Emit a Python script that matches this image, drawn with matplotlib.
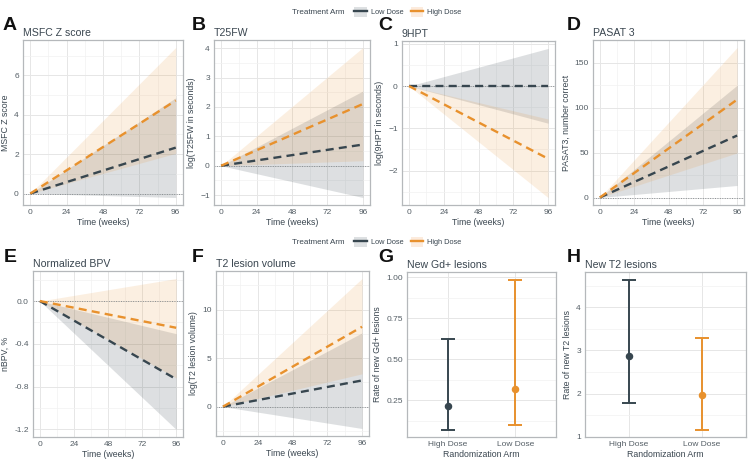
import matplotlib
matplotlib.use("Agg")
import matplotlib.pyplot as plt
from matplotlib.lines import Line2D
from matplotlib.patches import Patch
from matplotlib.ticker import AutoMinorLocator, FixedLocator
import numpy as np

plt.rcParams['font.family'] = ['Liberation Sans', 'DejaVu Sans']

# ---------------- data ----------------
time = [0, 96]
arms = ["Low Dose", "High Dose"]

# Panel A: MSFC Z score
msfc_low_est = [0, 2.33];  msfc_low_lo = [0, -0.20];  msfc_low_hi = [0, 4.86]
msfc_high_est = [0, 4.72]; msfc_high_lo = [0, 2.04]; msfc_high_hi = [0, 7.41]
# Panel B: T25FW
t25_low_est = [0, 0.72];  t25_low_lo = [0, -1.08];  t25_low_hi = [0, 2.54]
t25_high_est = [0, 2.10]; t25_high_lo = [0, 0.17]; t25_high_hi = [0, 4.02]
# Panel C: 9HPT
hpt_low_est = [0, 0.0];   hpt_low_lo = [0, -0.88];  hpt_low_hi = [0, 0.89]
hpt_high_est = [0, -1.72]; hpt_high_lo = [0, -2.64]; hpt_high_hi = [0, -0.78]
# Panel D: PASAT 3
pas_low_est = [0, 69];   pas_low_lo = [0, 13.4];  pas_low_hi = [0, 125]
pas_high_est = [0, 109]; pas_high_lo = [0, 49.6]; pas_high_hi = [0, 167]
# Panel E: nBPV
bpv_low_est = [0, -0.73];  bpv_low_lo = [0, -1.20];  bpv_low_hi = [0, -0.305]
bpv_high_est = [0, -0.25]; bpv_high_lo = [0, -0.72]; bpv_high_hi = [0, 0.21]
# Panel F: T2 lesion volume
t2v_low_est = [0, 2.70];  t2v_low_lo = [0, -2.25];  t2v_low_hi = [0, 7.60]
t2v_high_est = [0, 8.23]; t2v_high_lo = [0, 3.38]; t2v_high_hi = [0, 13.2]

# Panels G/H
rand_arms = ["High Dose", "Low Dose"]
gd_rate = [0.214, 0.318]; gd_lo = [0.073, 0.103]; gd_hi = [0.622, 0.986]
t2n_rate = [2.88, 1.97];  t2n_lo = [1.79, 1.17];  t2n_hi = [4.64, 3.29]

x_ticks = [0, 24, 48, 72, 96]

# ---------------- style ----------------
DARK = "#37464f"
ORANGE = "#e8912d"
TXT = "#3a4650"
TICK = "#555f66"
GRID = "#e6e6e6"
GRID_MINOR = "#f2f2f2"
BORDER = "#b5b8bb"

W, H = 750, 462
fig = plt.figure(figsize=(W / 100, H / 100), dpi=100)


def box(x0, y0, x1, y1):
    return [x0 / W, 1 - y1 / H, (x1 - x0) / W, (y1 - y0) / H]


def style_axes(ax, yticks, ylabel, title):
    ax.set_facecolor("white")
    for s in ax.spines.values():
        s.set_color(BORDER)
        s.set_linewidth(0.9)
    ax.grid(True, which="major", color=GRID, lw=0.7, zorder=0)
    ax.grid(True, which="minor", color=GRID_MINOR, lw=0.5, zorder=0)
    ax.set_axisbelow(True)
    ax.yaxis.set_major_locator(FixedLocator(yticks))
    ax.tick_params(which="both", length=0, labelsize=6.0, colors=TICK, pad=3)
    ax.set_ylabel(ylabel, fontsize=6.3, color=TXT, labelpad=3)
    ax.set_title(title, loc="left", fontsize=7.6, color=TXT, pad=3)


def expand(vals):
    lo, hi = min(vals), max(vals)
    d = (hi - lo) * 0.05
    return lo - d, hi + d


def trend_panel(rect, series, yticks, ylabel, title, fmt=None):
    ax = fig.add_axes(box(*rect))
    allv = []
    for est, lo, hi, col, a in series:
        ax.fill_between(time, lo, hi, color=col, alpha=a, lw=0, zorder=1)
        allv += list(lo) + list(hi) + list(est)
    ax.axhline(0, color="#8a8f93", lw=0.7, ls=(0, (1, 1.5)), zorder=2)
    for est, lo, hi, col, a in series:
        ax.plot(time, est, color=col, lw=1.7, ls=(0, (3.4, 2.2)), zorder=3,
                dash_capstyle="butt")
    ax.set_xlim(-4.8, 100.8)
    ax.set_ylim(*expand(allv))
    ax.xaxis.set_major_locator(FixedLocator(x_ticks))
    ax.xaxis.set_minor_locator(FixedLocator([12, 36, 60, 84]))
    ax.yaxis.set_minor_locator(AutoMinorLocator(2))
    style_axes(ax, yticks, ylabel, title)
    ax.set_xlabel("Time (weeks)", fontsize=6.3, color=TXT, labelpad=1.5)
    if fmt:
        ax.set_yticklabels([fmt.format(v) for v in yticks])
    return ax


def rate_panel(rect, rate, lo, hi, yticks, ylabel, title, fmt):
    ax = fig.add_axes(box(*rect))
    xs = np.arange(1, len(rand_arms) + 1)
    cols = [DARK, ORANGE]
    for i, x in enumerate(xs):
        ax.errorbar([x], [rate[i]], yerr=[[rate[i] - lo[i]], [hi[i] - rate[i]]],
                    fmt="o", color=cols[i], ms=4.4, elinewidth=1.4,
                    capsize=4.9, capthick=1.4, zorder=3)
    ax.set_xlim(0.4, 2.6)
    ax.set_ylim(*expand(list(lo) + list(hi)))
    ax.set_xticks(xs)
    ax.set_xticklabels(rand_arms)
    ax.yaxis.set_minor_locator(AutoMinorLocator(2))
    style_axes(ax, yticks, ylabel, title)
    ax.set_yticklabels([fmt.format(v) for v in yticks])
    ax.set_xlabel("Randomization Arm", fontsize=6.3, color=TXT, labelpad=1.5)
    return ax


A_LOW, A_HIGH = 0.17, 0.14

trend_panel((23, 40, 183, 205),
            [(msfc_low_est, msfc_low_lo, msfc_low_hi, DARK, A_LOW),
             (msfc_high_est, msfc_high_lo, msfc_high_hi, ORANGE, A_HIGH)],
            [0, 2, 4, 6], "MSFC Z score", "MSFC Z score")
trend_panel((214, 40, 370, 205),
            [(t25_low_est, t25_low_lo, t25_low_hi, DARK, A_LOW),
             (t25_high_est, t25_high_lo, t25_high_hi, ORANGE, A_HIGH)],
            [-1, 0, 1, 2, 3, 4], "log(T25FW in seconds)", "T25FW")
trend_panel((402, 41, 555, 205),
            [(hpt_low_est, hpt_low_lo, hpt_low_hi, DARK, A_LOW),
             (hpt_high_est, hpt_high_lo, hpt_high_hi, ORANGE, A_HIGH)],
            [-2, -1, 0, 1], "log(9HPT in seconds)", "9HPT")
trend_panel((593, 40, 744, 205),
            [(pas_low_est, pas_low_lo, pas_low_hi, DARK, A_LOW),
             (pas_high_est, pas_high_lo, pas_high_hi, ORANGE, A_HIGH)],
            [0, 50, 100, 150], "PASAT3, number correct", "PASAT 3")
trend_panel((33, 271, 183, 437),
            [(bpv_low_est, bpv_low_lo, bpv_low_hi, DARK, A_LOW),
             (bpv_high_est, bpv_high_lo, bpv_high_hi, ORANGE, A_HIGH)],
            [-1.2, -0.8, -0.4, 0.0], "nBPV, %", "Normalized BPV", fmt="{:.1f}")
trend_panel((216, 271, 369, 436),
            [(t2v_low_est, t2v_low_lo, t2v_low_hi, DARK, A_LOW),
             (t2v_high_est, t2v_high_lo, t2v_high_hi, ORANGE, A_HIGH)],
            [0, 5, 10], "log(T2 lesion volume)", "T2 lesion volume")
rate_panel((407, 272, 556, 437), gd_rate, gd_lo, gd_hi,
           [0.25, 0.50, 0.75, 1.00], "Rate of new Gd+ lesions", "New Gd+ lesions", "{:.2f}")
rate_panel((585, 272, 746, 437), t2n_rate, t2n_lo, t2n_hi,
           [1, 2, 3, 4], "Rate of new T2 lesions", "New T2 lesions", "{:d}")

# panel letters
for letter, (x, y) in zip("ABCDEFGH",
                          [(3, 26), (192, 26), (378, 26), (567, 26),
                           (4, 257), (192, 257), (378, 257), (567, 257)]):
    fig.text(x / W, 1 - y / H, letter, fontsize=14, fontweight="bold",
             color="#111111", va="center", ha="left")


# legends
def legend_at(ycenter):
    fig.text(292 / W, 1 - ycenter / H, "Treatment Arm", fontsize=5.8,
             color=TXT, va="center", ha="left")
    handles = [(Patch(facecolor="#dde0e2", lw=0),
                Line2D([], [], color=DARK, lw=1.7)),
               (Patch(facecolor="#fcebdd", lw=0),
                Line2D([], [], color=ORANGE, lw=1.7))]
    fig.legend(handles, arms, loc="center left",
               bbox_to_anchor=(354 / W, 1 - ycenter / H), ncol=2, frameon=False,
               fontsize=5.3, handlelength=1.75, handleheight=1.75,
               handletextpad=0.5, columnspacing=1.0, borderpad=0,
               borderaxespad=0, labelcolor=TXT)


legend_at(12)
legend_at(242)

fig.savefig("out.png", dpi=100)
